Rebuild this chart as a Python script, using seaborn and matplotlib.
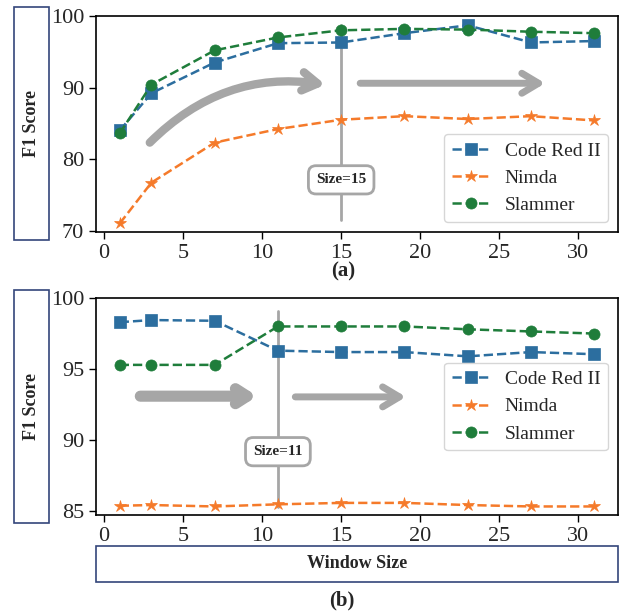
import numpy as np
import pandas as pd
import matplotlib
matplotlib.use("Agg")
import matplotlib.pyplot as plt
import seaborn as sns
from matplotlib.patches import Rectangle

window = [1, 3, 7, 11, 15, 19, 23, 27, 31]
series_names = ["Code Red II", "Nimda", "Slammer"]

a_codered = [84.0, 89.2, 93.5, 96.2, 96.3, 97.6, 98.7, 96.3, 96.5]
a_nimda = [71.0, 76.7, 82.3, 84.2, 85.5, 86.0, 85.6, 86.0, 85.4]
a_slammer = [83.6, 90.4, 95.2, 97.0, 98.0, 98.2, 98.1, 97.8, 97.6]

b_codered = [98.3, 98.45, 98.4, 96.3, 96.2, 96.2, 95.9, 96.2, 96.05]
b_nimda = [85.4, 85.45, 85.35, 85.5, 85.6, 85.6, 85.45, 85.35, 85.35]
b_slammer = [95.3, 95.3, 95.3, 98.0, 98.0, 98.0, 97.8, 97.65, 97.5]

yticks_a = [70, 80, 90, 100]
yticks_b = [85, 90, 95, 100]
xticks = [0, 5, 10, 15, 20, 25, 30]

colors = ["#2c6e9f", "#f57a2a", "#1f7d3b"]
markers = ["s", "*", "o"]
msizes = [8, 9, 8]

sns.set_theme(style="ticks")
plt.rcParams["font.family"] = ["Liberation Serif", "DejaVu Serif"]
plt.rcParams["mathtext.fontset"] = "stix"

W, H = 619, 611
fig = plt.figure(figsize=(W / 100, H / 100), dpi=100)

def fx(px):
    return px / W

def fy(py):
    return 1 - py / H

ax_a = fig.add_axes([fx(96), fy(231.7), fx(618 - 96), (231.7 - 16) / H])
ax_b = fig.add_axes([fx(96), fy(515), fx(618 - 96), (515 - 298) / H])

gray = "#a6a6a6"

def draw(ax, data, yticks, ylim, legloc):
    for name, vals, c, m, ms in zip(series_names, data, colors, markers, msizes):
        df = pd.DataFrame({"w": window, "f1": vals})
        sns.lineplot(data=df, x="w", y="f1", ax=ax, color=c, marker=m,
                     markersize=ms, linestyle="--", linewidth=1.8,
                     markeredgecolor=c, markeredgewidth=0.5, label=name)
    ax.set_ylim(*ylim)
    ax.set_xlim(-0.5, 32.5)
    ax.set_yticks(yticks)
    ax.set_xticks(xticks)
    ax.tick_params(labelsize=16, length=5, width=1, color="black")
    ax.set_xlabel("")
    ax.set_ylabel("")
    for s in ax.spines.values():
        s.set_color("black")
        s.set_linewidth(1.2)
    leg = ax.legend(loc=legloc, fontsize=14, handlelength=1.9, frameon=True)
    leg.get_frame().set_edgecolor("#cccccc")
    return leg

draw(ax_a, [a_codered, a_nimda, a_slammer], yticks_a, (69.85, 100), "lower right")
draw(ax_b, [b_codered, b_nimda, b_slammer], yticks_b, (84.75, 100), "center right")

# annotations (a)
ax_a.plot([15, 15], [98.7, 71.5], color=gray, lw=2, zorder=1.5)
ax_a.text(15, 77.1, "Size=15", ha="center", va="center", fontsize=11, fontweight="bold",
          bbox=dict(boxstyle="round,pad=0.5", fc="white", ec=gray, lw=2), zorder=4)
ax_a.annotate("", xy=(14.0, 90.4), xytext=(2.9, 82.3),
              arrowprops=dict(arrowstyle="->,head_length=0.9,head_width=0.55", lw=6,
                              color=gray, connectionstyle="arc3,rad=-0.25",
                              capstyle="round", joinstyle="round",
                              shrinkA=0, shrinkB=0), zorder=1)
ax_a.annotate("", xy=(27.9, 90.6), xytext=(16.2, 90.6),
              arrowprops=dict(arrowstyle="->,head_length=1.0,head_width=0.6", lw=5,
                              color=gray, capstyle="round", joinstyle="round",
                              shrinkA=0, shrinkB=0), zorder=1)

# annotations (b)
ax_b.plot([11, 11], [99.1, 85.3], color=gray, lw=2, zorder=1.5)
ax_b.text(11, 89.2, "Size=11", ha="center", va="center", fontsize=11, fontweight="bold",
          bbox=dict(boxstyle="round,pad=0.5", fc="white", ec=gray, lw=2), zorder=4)
ax_b.annotate("", xy=(9.7, 93.1), xytext=(2.3, 93.1),
              arrowprops=dict(arrowstyle="->,head_length=0.7,head_width=0.45", lw=8,
                              color=gray, capstyle="round", joinstyle="round",
                              shrinkA=0, shrinkB=0), zorder=1)
ax_b.annotate("", xy=(19.1, 93.05), xytext=(12.1, 93.05),
              arrowprops=dict(arrowstyle="->,head_length=1.0,head_width=0.6", lw=5,
                              color=gray, capstyle="round", joinstyle="round",
                              shrinkA=0, shrinkB=0), zorder=1)

# label boxes
edge = "#34467a"
fig.patches.append(Rectangle((fx(14), fy(240)), fx(35), (240 - 7) / H,
                             transform=fig.transFigure, fc="white", ec=edge, lw=1.2))
fig.text(fx(31.5), fy(123.5), "F1 Score", rotation=90, ha="center", va="center",
         fontsize=13, fontweight="bold")
fig.patches.append(Rectangle((fx(14), fy(523)), fx(35), (523 - 290) / H,
                             transform=fig.transFigure, fc="white", ec=edge, lw=1.2))
fig.text(fx(31.5), fy(406.5), "F1 Score", rotation=90, ha="center", va="center",
         fontsize=13, fontweight="bold")
fig.patches.append(Rectangle((fx(96), fy(582)), fx(618 - 96), (582 - 546) / H,
                             transform=fig.transFigure, fc="white", ec=edge, lw=1.2))
fig.text(fx(357), fy(564), "Window Size", ha="center", va="center",
         fontsize=13, fontweight="bold")

fig.text(fx(343), fy(271), "(a)", ha="center", va="center", fontsize=15, fontweight="bold")
fig.text(fx(342), fy(600), "(b)", ha="center", va="center", fontsize=15, fontweight="bold")

fig.savefig("out.png", dpi=100)
